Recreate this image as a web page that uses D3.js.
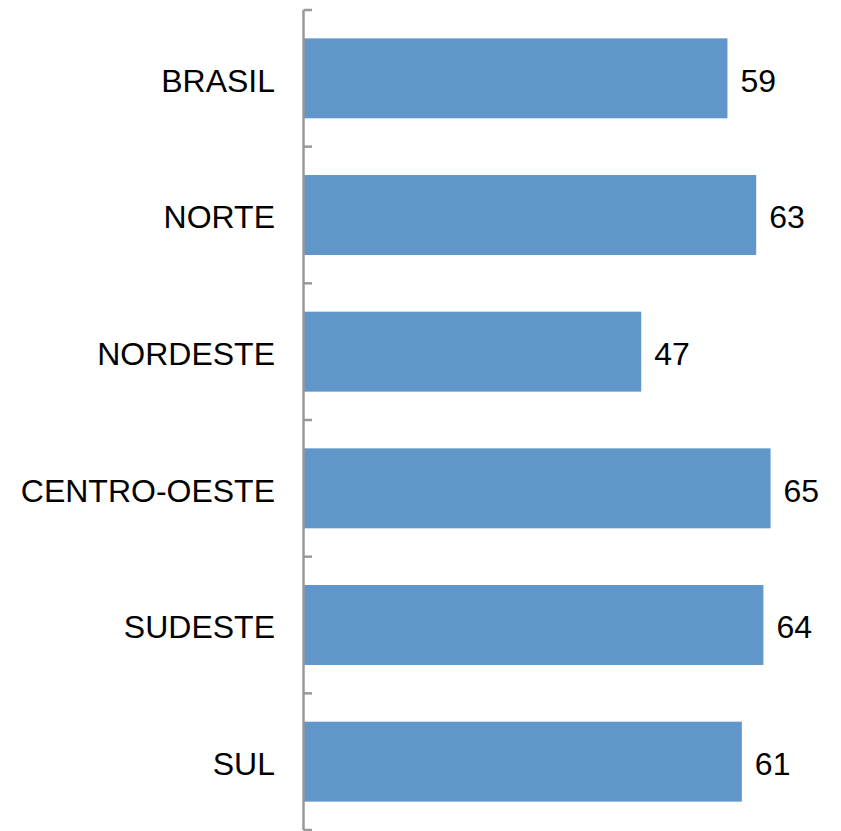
<!DOCTYPE html>
<html><head><meta charset="utf-8">
<script src="https://cdn.jsdelivr.net/npm/d3@7"></script>
<style>body{margin:0;background:#fff}</style>
</head><body>
<script>
const categories = ["BRASIL","NORTE","NORDESTE","CENTRO-OESTE","SUDESTE","SUL"];
const values = [59,63,47,65,64,61];

const W = 841, H = 831;
const svg = d3.select("body").append("svg").attr("width", W).attr("height", H);
const x0 = 303.5;
const x = d3.scaleLinear().domain([0,70]).range([x0, 806.5]);
const y = d3.scaleBand().domain(categories).range([10, 830]).paddingInner(0.415).paddingOuter(0.2075);
const font = "Liberation Sans, Arial, sans-serif";

svg.selectAll("rect.bar").data(values).enter().append("rect")
  .attr("x", x(0)).attr("y", (d,i)=>y(categories[i]))
  .attr("width", d=>x(d)-x(0)).attr("height", y.bandwidth())
  .attr("fill", "#6096c9");

// axis line + ticks at band boundaries
const step = (830-10)/categories.length;
const boundaries = d3.range(categories.length+1).map(i=>10+i*step);
svg.append("line").attr("x1", x0).attr("x2", x0).attr("y1", 10).attr("y2", 830)
  .attr("stroke", "#999").attr("stroke-width", 2.5);
svg.selectAll("line.tick").data(boundaries).enter().append("line")
  .attr("x1", x0).attr("x2", 312).attr("y1", d=>d).attr("y2", d=>d)
  .attr("stroke", "#999").attr("stroke-width", 2.5);

svg.selectAll("text.cat").data(categories).enter().append("text")
  .attr("x", 275).attr("y", d=>y(d)+y.bandwidth()/2)
  .attr("dy", "0.42em").attr("text-anchor","end")
  .attr("font-family", font).attr("font-size", 32).attr("fill","#000")
  .text(d=>d);

svg.selectAll("text.val").data(values).enter().append("text")
  .attr("x", d=>x(d)+13).attr("y", (d,i)=>y(categories[i])+y.bandwidth()/2)
  .attr("dy", "0.42em").attr("text-anchor","start")
  .attr("font-family", font).attr("font-size", 32).attr("fill","#000")
  .text(d=>d);
</script>
</body></html>
